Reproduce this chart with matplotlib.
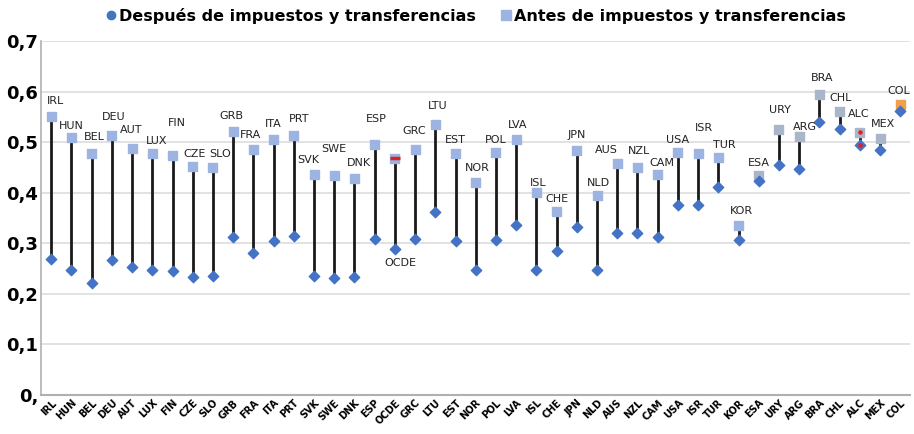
import matplotlib
matplotlib.use('Agg')
import matplotlib.pyplot as plt
from matplotlib.lines import Line2D

# datos: coeficiente de Gini antes y despues de impuestos y transferencias
paises = ['IRL', 'HUN', 'BEL', 'DEU', 'AUT', 'LUX', 'FIN', 'CZE', 'SLO', 'GRB',
          'FRA', 'ITA', 'PRT', 'SVK', 'SWE', 'DNK', 'ESP', 'OCDE', 'GRC', 'LTU',
          'EST', 'NOR', 'POL', 'LVA', 'ISL', 'CHE', 'JPN', 'NLD', 'AUS', 'NZL',
          'CAM', 'USA', 'ISR', 'TUR', 'KOR', 'ESA', 'URY', 'ARG', 'BRA', 'CHL',
          'ALC', 'MEX', 'COL']
antes = [0.551, 0.510, 0.478, 0.514, 0.488, 0.478, 0.474, 0.453, 0.450, 0.522,
         0.486, 0.506, 0.514, 0.437, 0.435, 0.429, 0.496, 0.468, 0.486, 0.536,
         0.478, 0.421, 0.480, 0.506, 0.401, 0.364, 0.484, 0.395, 0.458, 0.450,
         0.437, 0.480, 0.478, 0.470, 0.336, 0.435, 0.526, 0.512, 0.595, 0.561,
         0.520, 0.508, 0.575]
despues = [0.269, 0.247, 0.221, 0.267, 0.253, 0.247, 0.245, 0.233, 0.235, 0.312,
           0.281, 0.304, 0.314, 0.235, 0.231, 0.233, 0.308, 0.289, 0.308, 0.362,
           0.304, 0.247, 0.306, 0.336, 0.247, 0.285, 0.332, 0.247, 0.320, 0.320,
           0.312, 0.375, 0.375, 0.411, 0.306, 0.423, 0.455, 0.447, 0.541, 0.526,
           0.494, 0.484, 0.561]
yticks = [0, 0.1, 0.2, 0.3, 0.4, 0.5, 0.6, 0.7]
yticklabels = ['0,', '0,1', '0,2', '0,3', '0,4', '0,5', '0,6', '0,7']

# desplazamiento de las etiquetas respecto al marcador (puntos)
label_off = [(3, 11), (0, 8), (2, 12), (1, 13), (-1, 13), (3, 9), (3, 23), (1, 9), (5, 10), (-1, 11),
             (-2, 10), (0, 11), (4, 12), (-4, 10), (0, 19), (3, 11), (1, 18), (0, 0), (-1, 13), (2, 13),
             (0, 10), (1, 10), (0, 9), (1, 10), (1, 7), (0, 9), (0, 11), (1, 9), (-8, 10), (1, 12),
             (3, 8), (0, 9), (4, 18), (4, 9), (2, 10), (0, 9), (1, 14), (4, 7), (2, 12), (1, 10),
             (-1, 13), (2, 10), (-1, 10)]

azul = '#4472C4'
azul_claro = '#9DB3E2'
gris = '#A9B5C9'
colores_antes = [azul_claro] * 35 + [gris] * 7 + ['#F0A04B']
fuente = ['DejaVu Sans Condensed', 'DejaVu Sans']

fig, ax = plt.subplots(figsize=(9.14, 4.34), dpi=100)
fig.subplots_adjust(left=0.045, right=0.996, bottom=0.09, top=0.905)

x = list(range(len(paises)))
ax.vlines(x, despues, antes, color='#1a1a1a', lw=2, zorder=2)
ax.scatter(x, antes, marker='s', s=42, c=colores_antes, zorder=3)
ax.scatter(x, despues, marker='D', s=28, c=azul, zorder=3)
# marcas rojas (OCDE, ALC)
i_ocde = paises.index('OCDE')
i_alc = paises.index('ALC')
ax.plot(i_ocde, antes[i_ocde], marker='_', ms=7, mew=2.5, color='#E02020', zorder=4)
ax.scatter([i_alc, i_alc], [antes[i_alc], despues[i_alc]], marker='o', s=5, c='#E02020', zorder=4)

for i, p in enumerate(paises):
    if p == 'OCDE':
        ax.annotate(p, (i, despues[i]), xytext=(4, -10), textcoords='offset points',
                    ha='center', va='center', fontsize=8, family=fuente, color='#222222')
        continue
    dx, dy = label_off[i]
    ax.annotate(p, (i, antes[i]), xytext=(dx, dy), textcoords='offset points',
                ha='center', va='center', fontsize=8, family=fuente, color='#222222')

ax.set_xlim(-0.5, len(paises) - 0.5)
ax.set_ylim(0, 0.7)
ax.set_yticks(yticks)
ax.set_yticklabels(yticklabels, fontsize=13, fontweight='bold', family=fuente)
ax.set_xticks(x)
ax.set_xticklabels(paises, rotation=45, ha='right', rotation_mode='anchor',
                   fontsize=7, fontweight='heavy', family=fuente)
ax.tick_params(axis='both', length=0, pad=2)
ax.grid(axis='y', color='#dddddd', lw=1.2)
ax.set_axisbelow(True)
for s in ['top', 'right']:
    ax.spines[s].set_visible(False)
ax.spines['left'].set_color('#b0b0b0')
ax.spines['bottom'].set_color('#b0b0b0')
ax.spines['left'].set_linewidth(1.2)
ax.spines['bottom'].set_linewidth(1.5)

handles = [Line2D([], [], ls='', marker='o', ms=6, color=azul),
           Line2D([], [], ls='', marker='s', ms=7, color=azul_claro)]
fig.legend(handles, ['Después de impuestos y transferencias', 'Antes de impuestos y transferencias'],
           loc='upper center', bbox_to_anchor=(0.52, 1.015), ncol=2, frameon=False,
           handletextpad=0.1, columnspacing=1.5, handlelength=0.8,
           prop={'family': fuente, 'weight': 'bold', 'size': 11.5})

fig.savefig('out.png', dpi=100)
